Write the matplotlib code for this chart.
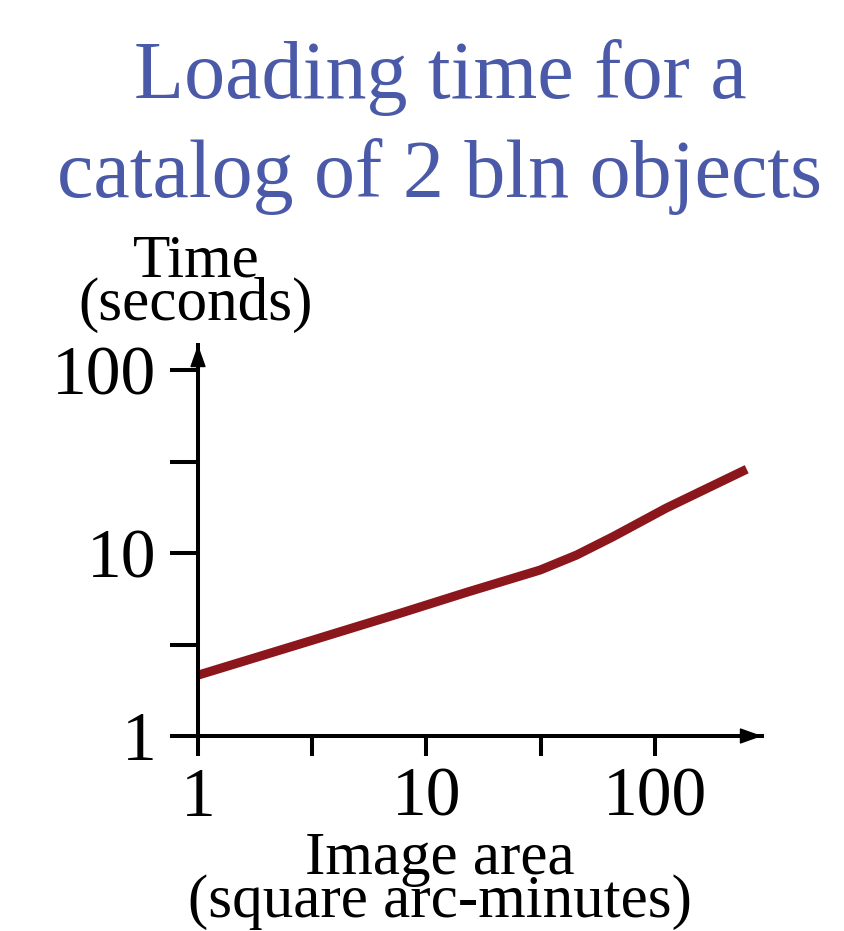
import matplotlib
matplotlib.use('Agg')
import matplotlib.pyplot as plt
import numpy as np

plt.rcParams['font.family'] = ['Liberation Serif', 'DejaVu Serif']

# values (log-log)
area = [1, 3.2, 7.65, 15, 31.4, 45.4, 65.7, 112, 252]
load_time = [2.15, 3.35, 4.68, 6.1, 8.07, 9.75, 12.3, 17.6, 28.7]

x_major = [1, 10, 100]
x_labels = ['1', '10', '100']
y_major = [1, 10, 100]
y_labels = ['1', '10', '100']
half_decades = [10 ** 0.5, 10 ** 1.5]

W, H = 844, 931
fig = plt.figure(figsize=(W / 100, H / 100), dpi=100)

def px(x, y):
    return x / W, 1 - y / H

ax = fig.add_axes([198 / W, (H - 736) / H, (762 - 198) / W, (736 - 345) / H])
ax.set_xscale('log')
ax.set_yscale('log')
ax.set_xlim(1, 294)
ax.set_ylim(1, 137)

ax.plot(area, load_time, color='#8b161b', lw=6.5, solid_capstyle='butt',
        solid_joinstyle='round', clip_on=False)

for s in ['top', 'right']:
    ax.spines[s].set_visible(False)
for s in ['left', 'bottom']:
    ax.spines[s].set_linewidth(2.9)
    ax.spines[s].set_color('black')

ax.set_xticks(x_major)
ax.set_xticklabels(x_labels)
ax.set_xticks(half_decades, minor=True)
ax.set_yticks(y_major)
ax.set_yticklabels(y_labels)
ax.set_yticks(half_decades, minor=True)
ax.xaxis.set_minor_formatter(matplotlib.ticker.NullFormatter())
ax.yaxis.set_minor_formatter(matplotlib.ticker.NullFormatter())

ax.tick_params(axis='x', which='both', direction='out', length=14.5, width=2.9,
               labelsize=50, pad=8)
ax.tick_params(axis='y', which='both', direction='out', length=20, width=2.9,
               labelsize=50, pad=10)

# small arrow heads on the axes
arrow = dict(arrowstyle='-|>,head_length=1.4,head_width=0.5', color='black',
             lw=1, shrinkA=0, shrinkB=0, mutation_scale=10)
ax.annotate('', xy=(1, 0), xytext=(0.96, 0), xycoords='axes fraction',
            arrowprops=arrow, annotation_clip=False)
ax.annotate('', xy=(0, 1), xytext=(0, 0.95), xycoords='axes fraction',
            arrowprops=arrow, annotation_clip=False)

title_color = '#4a5aa8'
fig.text(*px(440, 98), 'Loading time for a', ha='center', va='baseline',
         fontsize=59, color=title_color)
fig.text(*px(440, 197), 'catalog of 2 bln objects', ha='center', va='baseline',
         fontsize=59, color=title_color)

fig.text(*px(196, 320), 'Time\n(seconds)', ha='center', va='baseline',
         fontsize=44, linespacing=0.7)
fig.text(*px(440, 917), 'Image area\n(square arc-minutes)', ha='center',
         va='baseline', fontsize=44, linespacing=0.7)

fig.savefig('out.png', dpi=100)
